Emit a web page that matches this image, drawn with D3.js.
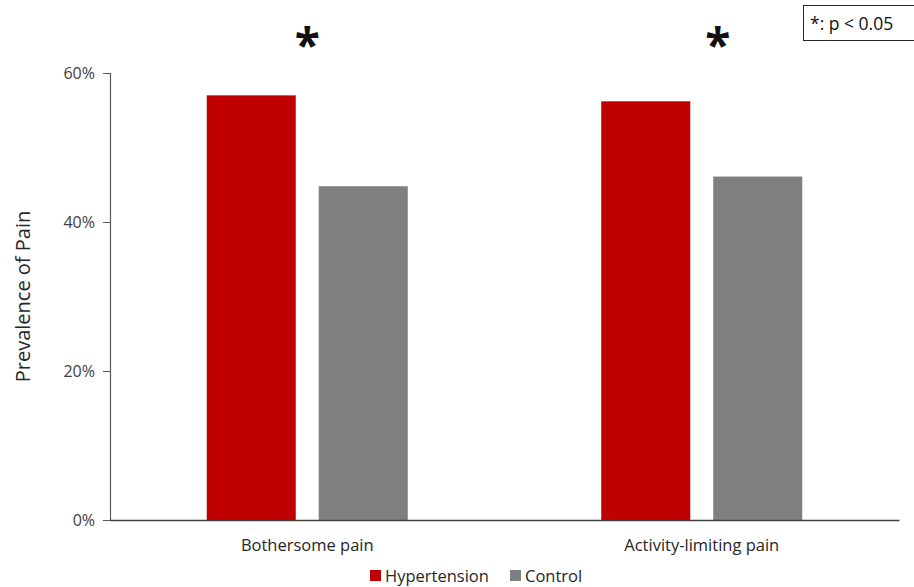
<!DOCTYPE html>
<html>
<head>
<meta charset="utf-8">
<script src="https://cdn.jsdelivr.net/npm/d3@7"></script>
<style>
  body { margin: 0; background: #fff; }
  text { font-family: "Open Sans", "Liberation Sans", sans-serif; }
</style>
</head>
<body>
<svg id="chart" width="914" height="587"></svg>
<script>
// data
var categories = ["Bothersome pain", "Activity-limiting pain"];
var series = ["Hypertension", "Control"];
var hypertension = [0.570, 0.562];
var control = [0.448, 0.461];
var yTicks = [0, 0.2, 0.4, 0.6];
var significant = [true, true];
var colors = ["#c00000", "#7f7f7f"];

var svg = d3.select("#chart");
var mLeft = 110, mRight = 899, mTop = 73, mBottom = 520;

var x0 = d3.scaleBand().domain(categories).range([mLeft, mRight]);
var x1 = d3.scaleBand().domain(series).range([0, x0.bandwidth()])
    .paddingInner(0.205).paddingOuter(0.864);
var y = d3.scaleLinear().domain([0, 0.6]).range([mBottom, mTop]);
var color = d3.scaleOrdinal().domain(series).range(colors);

var rows = categories.map(function(c, i) {
  return { cat: c, vals: [hypertension[i], control[i]], sig: significant[i] };
});

// y axis
var yAxis = svg.append("g")
    .attr("transform", "translate(" + mLeft + ",0)")
    .call(d3.axisLeft(y).tickValues(yTicks).tickFormat(d3.format(".0%")).tickSize(7).tickPadding(8));
yAxis.select(".domain").attr("stroke", "#595959").attr("stroke-width", 1.2);
yAxis.selectAll(".tick line").attr("stroke", "#595959");
yAxis.selectAll(".tick text").attr("font-size", 16).attr("fill", "#404040")
    .style("font-family", "'Open Sans', sans-serif");

// bars
var groups = svg.selectAll(".grp").data(rows).enter().append("g")
    .attr("class", "grp")
    .attr("transform", function(d) { return "translate(" + x0(d.cat) + ",0)"; });
groups.selectAll("rect").data(function(d) {
    return d.vals.map(function(v, i) { return { s: series[i], v: v }; });
  }).enter().append("rect")
    .attr("x", function(d) { return x1(d.s); })
    .attr("width", x1.bandwidth())
    .attr("y", function(d) { return y(d.v); })
    .attr("height", function(d) { return y(0) - y(d.v); })
    .attr("fill", function(d) { return color(d.s); });

// x axis
var xAxis = svg.append("g")
    .attr("transform", "translate(0," + mBottom + ")")
    .call(d3.axisBottom(x0).tickSize(0).tickPadding(19));
xAxis.select(".domain").attr("stroke", "#404040").attr("stroke-width", 1.5);
xAxis.selectAll(".tick text").attr("font-size", 16.5).attr("fill", "#262626")
    .style("font-family", "'Open Sans', sans-serif");

// significance asterisks
groups.filter(function(d) { return d.sig; }).append("text")
    .attr("x", function(d, i) { return x0.bandwidth() / 2 + (i === 1 ? 16 : 0); })
    .attr("y", 62)
    .attr("text-anchor", "middle")
    .attr("font-size", 46)
    .attr("font-weight", "bold")
    .attr("fill", "#111")
    .text("*");

// y title
svg.append("text")
    .attr("transform", "translate(30," + ((mTop + mBottom) / 2) + ") rotate(-90)")
    .attr("text-anchor", "middle")
    .attr("font-size", 20)
    .attr("fill", "#262626")
    .text("Prevalence of Pain");

// note box
svg.append("rect").attr("x", 803.5).attr("y", 5.5).attr("width", 112).attr("height", 35)
    .attr("fill", "#fff").attr("stroke", "#262626").attr("stroke-width", 1);
svg.append("text").attr("x", 810).attr("y", 30).attr("font-size", 17.5).attr("fill", "#111")
    .text("*: p < 0.05");

// legend
var legend = svg.append("g").attr("transform", "translate(370,568)");
var lx = [0, 140];
series.forEach(function(s, i) {
  legend.append("rect").attr("x", lx[i]).attr("y", 2).attr("width", 11).attr("height", 11)
      .attr("fill", color(s));
  legend.append("text").attr("x", lx[i] + 15).attr("y", 14).attr("font-size", 16.5)
      .attr("fill", "#262626").text(s);
});
</script>
</body>
</html>
